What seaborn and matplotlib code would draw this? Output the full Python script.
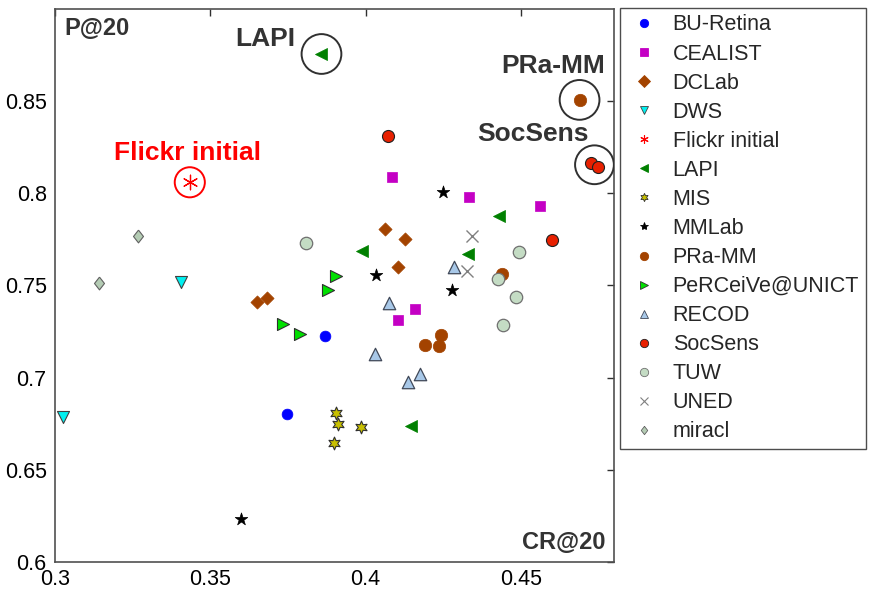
import matplotlib
matplotlib.use("Agg")
import matplotlib.pyplot as plt
import seaborn as sns
import pandas as pd
from matplotlib.lines import Line2D

# ---------------- data ----------------
teams = ["BU-Retina", "CEALIST", "DCLab", "DWS", "Flickr initial", "LAPI", "MIS",
         "MMLab", "PRa-MM", "PeRCeiVe@UNICT", "RECOD", "SocSens", "TUW", "UNED", "miracl"]

bu_cr = [0.387, 0.3748]
bu_p = [0.7225, 0.6805]
cea_cr = [0.4084, 0.4334, 0.4562, 0.4159, 0.4103]
cea_p = [0.8086, 0.7979, 0.7929, 0.7374, 0.7311]
dcl_cr = [0.4064, 0.4128, 0.4106, 0.3650, 0.3684]
dcl_p = [0.7804, 0.7754, 0.7600, 0.7410, 0.7432]
dws_cr = [0.3407, 0.3025]
dws_p = [0.7518, 0.6784]
fli_cr = [0.3434]
fli_p = [0.8060]
lapi_cr = [0.3858, 0.3989, 0.4428, 0.4331, 0.4147]
lapi_p = [0.8756, 0.7685, 0.7878, 0.7669, 0.6737]
mis_cr = [0.3906, 0.3912, 0.3985, 0.3898]
mis_p = [0.6809, 0.6751, 0.6733, 0.6646]
mml_cr = [0.4249, 0.4032, 0.4277, 0.3600]
mml_p = [0.8006, 0.7555, 0.7477, 0.6233]
pra_cr = [0.4689, 0.4438, 0.4244, 0.4191, 0.4238]
pra_p = [0.8507, 0.7560, 0.7230, 0.7175, 0.7172]
per_cr = [0.3906, 0.3879, 0.3734, 0.3790]
per_p = [0.7549, 0.7477, 0.7289, 0.7235]
rec_cr = [0.4077, 0.4029, 0.4176, 0.4138, 0.4286]
rec_p = [0.7405, 0.7131, 0.7018, 0.6977, 0.7600]
soc_cr = [0.4073, 0.4726, 0.4747, 0.4600]
soc_p = [0.8311, 0.8163, 0.8145, 0.7748]
tuw_cr = [0.3809, 0.4495, 0.4427, 0.4485, 0.4442]
tuw_p = [0.7730, 0.7683, 0.7535, 0.7439, 0.7286]
uned_cr = [0.4342, 0.4326]
uned_p = [0.7766, 0.7576]
mir_cr = [0.3266, 0.3141]
mir_p = [0.7766, 0.7511]

series_cr = [bu_cr, cea_cr, dcl_cr, dws_cr, fli_cr, lapi_cr, mis_cr, mml_cr,
             pra_cr, per_cr, rec_cr, soc_cr, tuw_cr, uned_cr, mir_cr]
series_p = [bu_p, cea_p, dcl_p, dws_p, fli_p, lapi_p, mis_p, mml_p,
            pra_p, per_p, rec_p, soc_p, tuw_p, uned_p, mir_p]

highlight_names = ["LAPI", "PRa-MM", "SocSens", "Flickr initial"]
highlight_cr = [0.3858, 0.4689, 0.4737, 0.3434]
highlight_p = [0.8756, 0.8507, 0.8155, 0.8060]
label_cr = [0.3677, 0.4605, 0.4540, 0.3428]
label_p = [0.8839, 0.8692, 0.8324, 0.8221]

x_ticks = [0.3, 0.35, 0.4, 0.45]
y_ticks = [0.6, 0.65, 0.7, 0.75, 0.8, 0.85]

# ---------------- styles ----------------
wide_diamond = [(0, 1), (0.78, 0), (0, -1), (-0.78, 0), (0, 1)]
styles = {
    "BU-Retina":      dict(marker="o", color="#0000FF", edge="#0000FF", s=60, lw=0.5),
    "CEALIST":        dict(marker="s", color="#C400C4", edge="#C400C4", s=50, lw=0.5),
    "DCLab":          dict(marker="D", color="#A34300", edge="#A34300", s=45, lw=0.5),
    "DWS":            dict(marker="v", color="#00F0F0", edge="#404040", s=75, lw=0.8),
    "Flickr initial": dict(marker=(6, 2, 0), color="#FF0000", edge="#FF0000", s=110, lw=0.9),
    "LAPI":           dict(marker="<", color="#008000", edge="#008000", s=75, lw=0.5),
    "MIS":            dict(marker=(6, 1, 0), color="#C8C000", edge="#303030", s=85, lw=0.8),
    "MMLab":          dict(marker="*", color="#000000", edge="#000000", s=90, lw=0.5),
    "PRa-MM":         dict(marker="o", color="#A34300", edge="#A34300", s=80, lw=0.5),
    "PeRCeiVe@UNICT": dict(marker=">", color="#00E000", edge="#303030", s=75, lw=0.8),
    "RECOD":          dict(marker="^", color="#A8C8E8", edge="#404858", s=80, lw=0.9),
    "SocSens":        dict(marker="o", color="#E82000", edge="#202020", s=75, lw=0.8),
    "TUW":            dict(marker="o", color="#C4DCC4", edge="#707070", s=80, lw=0.9),
    "UNED":           dict(marker="x", color="#808080", edge="#808080", s=75, lw=1.0),
    "miracl":         dict(marker=wide_diamond, color="#B4CCB4", edge="#606060", s=85, lw=0.8),
}

rows = []
for name, xs, ys in zip(teams, series_cr, series_p):
    for xv, yv in zip(xs, ys):
        rows.append({"team": name, "CR": xv, "P": yv})
df = pd.DataFrame(rows)

sns.set_style("white")
plt.rcParams["font.family"] = ["Liberation Sans", "DejaVu Sans"]

fig = plt.figure(figsize=(8.69, 5.93), dpi=100)
ax = fig.add_axes([0.0633, 0.0523, 0.6433, 0.9325])

for name in teams:
    st = styles[name]
    sub = df[df["team"] == name]
    if name in ("UNED", "Flickr initial"):
        sns.scatterplot(data=sub, x="CR", y="P", marker=st["marker"], color=st["color"],
                        s=st["s"], linewidth=st["lw"], ax=ax, legend=False, zorder=3)
    else:
        sns.scatterplot(data=sub, x="CR", y="P", marker=st["marker"], color=st["color"],
                        edgecolor=st["edge"], s=st["s"], linewidth=st["lw"], ax=ax,
                        legend=False, zorder=3)

# highlight circles
circle_sizes = [820, 820, 780, 470]
circle_colors = ["#303030", "#303030", "#303030", "#FF0000"]
for cx, cy, cs, cc in zip(highlight_cr, highlight_p, circle_sizes, circle_colors):
    ax.scatter([cx], [cy], s=cs, facecolors="none", edgecolors=cc, linewidths=1.4, zorder=4)

label_colors = ["#333333", "#333333", "#333333", "#FF0000"]
for nm, lx, ly, lc in zip(highlight_names, label_cr, label_p, label_colors):
    ax.text(lx, ly, nm, color=lc, fontsize=19, fontweight="bold", ha="center", va="center")

ax.text(0.017, 0.985, "P@20", transform=ax.transAxes, fontsize=17, fontweight="bold",
        color="#333333", ha="left", va="top")
ax.text(0.985, 0.015, "CR@20", transform=ax.transAxes, fontsize=17, fontweight="bold",
        color="#333333", ha="right", va="bottom")

ax.set_xlim(0.3, 0.48)
ax.set_ylim(0.6, 0.9)
ax.set_xticks(x_ticks)
ax.set_xticklabels([f"{v:g}" for v in x_ticks])
ax.set_yticks(y_ticks)
ax.set_yticklabels([f"{v:g}" for v in y_ticks])
ax.set_xlabel("")
ax.set_ylabel("")
ax.tick_params(direction="in", length=5, width=1, top=True, right=True,
               labelsize=15.5, colors="#303030", labelcolor="black")
ax.tick_params(axis="x", pad=5)
ax.tick_params(axis="y", pad=6)
for sp in ax.spines.values():
    sp.set_visible(True)
    sp.set_color("#505050")
    sp.set_linewidth(1.2)

# legend
handles = []
for name in teams:
    st = styles[name]
    if name in ("UNED", "Flickr initial"):
        h = Line2D([], [], linestyle="none", marker=st["marker"], color=st["color"],
                   markersize=6, markeredgewidth=0.8)
    else:
        h = Line2D([], [], linestyle="none", marker=st["marker"], markerfacecolor=st["color"],
                   markeredgecolor=st["edge"], markersize=6, markeredgewidth=0.6)
    handles.append(h)
leg = fig.legend(handles, teams, loc="upper left", bbox_to_anchor=(620 / 869, 1 - 8 / 593),
                 fontsize=15.5, frameon=True, fancybox=False, shadow=False,
                 borderpad=0.3, labelspacing=0.375, handletextpad=0.55, handlelength=1.6,
                 borderaxespad=0)
leg.get_frame().set_edgecolor("#202020")
leg.get_frame().set_linewidth(1.0)

fig.savefig("out.png", dpi=100)
